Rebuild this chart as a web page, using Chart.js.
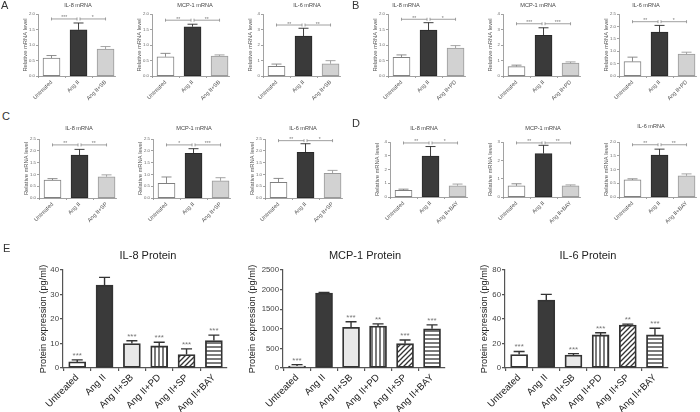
<!DOCTYPE html>
<html><head><meta charset="utf-8">
<script src="https://cdn.jsdelivr.net/npm/chart.js@4.4.0/dist/chart.umd.min.js"></script>
<style>
html,body{margin:0;padding:0;background:#fff;width:700px;height:412px;overflow:hidden;position:relative;font-family:Arial,"Liberation Sans",sans-serif;}
canvas{position:absolute;}
.t{position:absolute;white-space:nowrap;transform:translate(-50%,-50%);line-height:1;}
</style></head><body>
<script>
const FONT = 'Arial, "Liberation Sans", sans-serif';

// ---------- mRNA panels (A-D) ----------
const labelsA = ["Untreated", "Ang II", "Ang II+SB"];
const labelsB = ["Untreated", "Ang II", "Ang II+PD"];
const labelsC = ["Untreated", "Ang II", "Ang II+SP"];
const labelsD = ["Untreated", "Ang II", "Ang II+BAY"];

const A_IL8 = [0.58, 1.49, 0.87],  A_IL8_err = [0.08, 0.22, 0.08];
const A_MCP1 = [0.62, 1.59, 0.645], A_MCP1_err = [0.11, 0.08, 0.035];
const A_IL6 = [0.63, 2.58, 0.79],  A_IL6_err = [0.14, 0.50, 0.20];
const B_IL8 = [0.60, 1.48, 0.90],  B_IL8_err = [0.08, 0.24, 0.08];
const B_MCP1 = [0.61, 2.63, 0.83], B_MCP1_err = [0.09, 0.48, 0.08];
const B_IL6 = [0.58, 1.77, 0.88],  B_IL6_err = [0.18, 0.27, 0.08];
const C_IL8 = [0.76, 1.82, 0.90],  C_IL8_err = [0.06, 0.24, 0.08];
const C_MCP1 = [0.62, 1.89, 0.73], C_MCP1_err = [0.27, 0.20, 0.13];
const C_IL6 = [0.66, 1.94, 1.05],  C_IL6_err = [0.17, 0.36, 0.12];
const D_IL8 = [0.48, 2.97, 0.82],  D_IL8_err = [0.09, 0.70, 0.12];
const D_MCP1 = [0.61, 2.37, 0.61], D_MCP1_err = [0.11, 0.45, 0.05];
const D_IL6 = [0.62, 1.52, 0.77],  D_IL6_err = [0.04, 0.22, 0.07];

const ticks2_0 = [0, 0.5, 1.0, 1.5, 2.0];
const ticks2_5 = [0, 0.5, 1.0, 1.5, 2.0, 2.5];
const ticks3 = [0, 1, 2, 3];
const ticks4 = [0, 1, 2, 3, 4];

// bracket heights and significance marks
const A_IL8_sig = ["***", "*"],  A_MCP1_sig = ["**", "**"], A_IL6_sig = ["**", "**"];
const B_IL8_sig = ["**", "*"],   B_MCP1_sig = ["***", "***"], B_IL6_sig = ["**", "*"];
const C_IL8_sig = ["**", "**"],  C_MCP1_sig = ["*", "***"], C_IL6_sig = ["**", "*"];
const D_IL8_sig = ["**", "*"],   D_MCP1_sig = ["**", "**"], D_IL6_sig = ["**", "**"];
const bracketLevels = {A_IL8: 1.84, A_MCP1: 1.8, A_IL6: 3.29, B_IL8: 1.83, B_MCP1: 3.37, B_IL6: 2.19,
  C_IL8: 2.25, C_MCP1: 2.25, C_IL6: 2.43, D_IL8: 3.93, D_MCP1: 2.95, D_IL6: 1.9};

// ---------- Protein panels (E) ----------
const labelsE = ["Untreated", "Ang II", "Ang II+SB", "Ang II+PD", "Ang II+SP", "Ang II+BAY"];
const IL8_protein = [2.5, 33.8, 10.0, 9.0, 5.5, 11.2];
const IL8_protein_err = [0.8, 3.2, 1.1, 1.5, 2.3, 2.2];
const MCP1_protein = [50, 1910, 1040, 1070, 620, 1000];
const MCP1_protein_err = [35, 20, 140, 55, 95, 100];
const IL6_protein = [11, 55.5, 10.5, 27, 35, 27];
const IL6_protein_err = [2.5, 4.6, 1.2, 1.8, 0.8, 5.5];
const IL8_protein_sig = ["***", "", "***", "***", "***", "***"];
const MCP1_protein_sig = ["***", "", "***", "**", "***", "***"];
const IL6_protein_sig = ["***", "", "***", "***", "**", "***"];
const ticksIL8P = [0, 10, 20, 30, 40];
const ticksMCP1P = [0, 500, 1000, 1500, 2000, 2500];
const ticksIL6P = [0, 20, 40, 60, 80];

// ---------- helpers ----------
function addText(txt, x, y, size, color) {
  const d = document.createElement('div');
  d.className = 't'; d.textContent = txt;
  d.style.left = x + 'px'; d.style.top = y + 'px';
  d.style.fontSize = size + 'px'; d.style.color = color;
  document.body.appendChild(d);
}
function addLetter(txt, x, y) {
  const d = document.createElement('div');
  d.style.position = 'absolute'; d.textContent = txt;
  d.style.left = x + 'px'; d.style.top = y + 'px';
  d.style.fontSize = '11px'; d.style.color = '#333'; d.style.lineHeight = '1';
  document.body.appendChild(d);
}
function makePattern(kind) {
  const s = kind === 'diag' ? 5 : 4;
  const c = document.createElement('canvas'); c.width = s; c.height = s;
  const g = c.getContext('2d');
  g.fillStyle = '#fff'; g.fillRect(0, 0, s, s);
  g.strokeStyle = '#333'; g.lineWidth = 1.3;
  g.beginPath();
  if (kind === 'vert') { g.moveTo(1, 0); g.lineTo(1, s); }
  else if (kind === 'horz') { g.moveTo(0, 1); g.lineTo(s, 1); }
  else { g.moveTo(-1, s + 1); g.lineTo(s + 1, -1); g.moveTo(-1, 1); g.lineTo(1, -1); g.moveTo(s - 1, s + 1); g.lineTo(s + 1, s - 1); }
  g.stroke();
  return g.createPattern(c, 'repeat');
}

function panel(o) {
  const cv = document.createElement('canvas');
  const W = Math.round((o.R - o.L) + o.yw + o.pr), H = Math.round((o.B - o.T) + o.pt + o.xh);
  cv.width = W; cv.height = H;
  cv.style.left = (o.L - o.yw) + 'px'; cv.style.top = (o.T - o.pt) + 'px';
  cv.style.width = W + 'px'; cv.style.height = H + 'px';
  document.body.appendChild(cv);
  const overlay = {
    id: 'overlay',
    afterDatasetsDraw(chart) {
      const ctx = chart.ctx, ys = chart.scales.y;
      const bars = chart.getDatasetMeta(0).data;
      ctx.save();
      bars.forEach((bar, i) => {
        const x = bar.x;
        const y0 = ys.getPixelForValue(o.values[i]);
        const y1 = ys.getPixelForValue(o.values[i] + o.errs[i]);
        ctx.strokeStyle = o.errCol[i]; ctx.lineWidth = o.ew;
        ctx.beginPath();
        ctx.moveTo(x, y0); ctx.lineTo(x, y1);
        ctx.moveTo(x - o.cap / 2, y1); ctx.lineTo(x + o.cap / 2, y1);
        ctx.stroke();
        if (o.stars && o.stars[i]) {
          ctx.fillStyle = o.starCol; ctx.font = o.starFs + 'px ' + FONT;
          ctx.textAlign = 'center'; ctx.textBaseline = 'alphabetic';
          ctx.fillText(o.stars[i], x, y1 - 2);
        }
      });
      if (o.bracket !== undefined) {
        const y = ys.getPixelForValue(o.bracket);
        const xs = bars.map(b => b.x);
        const segs = [[xs[0], xs[1] - 1.5], [xs[1] + 1.5, xs[2]]];
        ctx.strokeStyle = '#888'; ctx.lineWidth = 0.8;
        ctx.fillStyle = '#777'; ctx.font = o.sigFs + 'px ' + FONT;
        ctx.textAlign = 'center'; ctx.textBaseline = 'alphabetic';
        segs.forEach((sg, k) => {
          ctx.beginPath();
          ctx.moveTo(sg[0], y); ctx.lineTo(sg[1], y);
          ctx.moveTo(sg[0], y - 1.5); ctx.lineTo(sg[0], y + 1.5);
          ctx.moveTo(sg[1], y - 1.5); ctx.lineTo(sg[1], y + 1.5);
          ctx.stroke();
          ctx.fillText(o.sig[k], (sg[0] + sg[1]) / 2, y + 0.5);
        });
      }
      ctx.restore();
    }
  };
  new Chart(cv, {
    type: 'bar',
    data: { datasets: [{
      data: o.values.map((v, i) => ({ x: i, y: v })),
      backgroundColor: o.fills, borderColor: o.borders, borderWidth: o.bw,
      borderSkipped: false, barThickness: o.barW
    }] },
    options: {
      responsive: false, animation: false, devicePixelRatio: 1,
      layout: { padding: { left: 0, top: o.pt, right: o.pr, bottom: 0 } },
      plugins: { legend: { display: false }, tooltip: { enabled: false }, title: { display: false } },
      scales: {
        x: {
          type: 'linear', min: o.xmin, max: o.xmax, offset: false,
          afterBuildTicks: s => { s.ticks = o.labels.map((_, i) => ({ value: i })); },
          afterFit: s => { s.height = o.xh; s.paddingLeft = 0; s.paddingRight = 0; },
          ticks: { autoSkip: false, minRotation: 45, maxRotation: 45, padding: o.xpad,
            color: o.xcol, font: { family: FONT, size: o.xfs }, callback: v => o.labels[v] },
          grid: { display: true, drawOnChartArea: false, drawTicks: true, tickLength: o.tl, color: o.axcol, lineWidth: o.axw },
          border: { display: true, color: o.axcol, width: o.axw }
        },
        y: {
          min: 0, max: o.yticks[o.yticks.length - 1],
          afterBuildTicks: s => { s.ticks = o.yticks.map(v => ({ value: v })); },
          afterFit: s => { s.width = o.yw; s.paddingTop = 0; s.paddingBottom = 0; },
          ticks: { padding: 1, color: o.ycol, font: { family: FONT, size: o.yfs },
            callback: v => v.toFixed(o.dec) },
          grid: { display: true, drawOnChartArea: false, drawTicks: true, tickLength: o.tl, color: o.axcol, lineWidth: o.axw },
          border: { display: true, color: o.axcol, width: o.axw },
          title: { display: true, text: o.ytitle, color: o.ytcol, font: { family: FONT, size: o.ytfs }, padding: { top: 0, bottom: 0 } }
        }
      }
    },
    plugins: [overlay]
  });
  addText(o.title, o.tx, o.ty, o.tfs, o.tcol);
}

// small mRNA panel
function mrna(title, labels, vals, errs, sig, br, yt, dec, L, T, B, tx, ty) {
  panel({
    title, tx, ty, tfs: 5.6, tcol: '#444',
    labels, values: vals, errs, sig, bracket: br, sigFs: 5,
    yticks: yt, dec, L, R: L + 77, T, B,
    yw: 16, pt: 10, pr: 3, xh: 28, xmin: -0.5, xmax: 2.35, barW: 17,
    fills: ['#ffffff', '#3a3a3a', '#d2d2d2'], borders: ['#808080', '#2a2a2a', '#9a9a9a'], bw: 1,
    errCol: ['#808080', '#2a2a2a', '#9a9a9a'], ew: 0.9, cap: 10,
    xfs: 5.6, xcol: '#555', xpad: 1, yfs: 4.3, ycol: '#666', tl: 2, axcol: '#8a8a8a', axw: 0.8,
    ytitle: 'Relative mRNA level', ytfs: 5.8, ytcol: '#555'
  });
}

mrna('IL-8 mRNA', labelsA, A_IL8, A_IL8_err, A_IL8_sig, bracketLevels.A_IL8, ticks2_0, 1, 38, 14, 76, 78, 6);
mrna('MCP-1 mRNA', labelsA, A_MCP1, A_MCP1_err, A_MCP1_sig, bracketLevels.A_MCP1, ticks2_0, 1, 152, 14, 76, 195, 6);
mrna('IL-6 mRNA', labelsA, A_IL6, A_IL6_err, A_IL6_sig, bracketLevels.A_IL6, ticks4, 0, 263, 14, 76, 307, 6);
mrna('IL-8 mRNA', labelsB, B_IL8, B_IL8_err, B_IL8_sig, bracketLevels.B_IL8, ticks2_0, 1, 388, 14, 76, 406, 6);
mrna('MCP-1 mRNA', labelsB, B_MCP1, B_MCP1_err, B_MCP1_sig, bracketLevels.B_MCP1, ticks4, 0, 503, 14, 76, 538, 6);
mrna('IL-6 mRNA', labelsB, B_IL6, B_IL6_err, B_IL6_sig, bracketLevels.B_IL6, ticks2_5, 1, 619, 14, 76, 646, 6);
mrna('IL-8 mRNA', labelsC, C_IL8, C_IL8_err, C_IL8_sig, bracketLevels.C_IL8, ticks2_5, 1, 39, 139, 198, 79, 129);
mrna('MCP-1 mRNA', labelsC, C_MCP1, C_MCP1_err, C_MCP1_sig, bracketLevels.C_MCP1, ticks2_5, 1, 153, 139, 198, 194, 129);
mrna('IL-6 mRNA', labelsC, C_IL6, C_IL6_err, C_IL6_sig, bracketLevels.C_IL6, ticks2_5, 1, 265, 139, 198, 303, 129);
mrna('IL-8 mRNA', labelsD, D_IL8, D_IL8_err, D_IL8_sig, bracketLevels.D_IL8, ticks4, 0, 390, 142, 197, 424, 129);
mrna('MCP-1 mRNA', labelsD, D_MCP1, D_MCP1_err, D_MCP1_sig, bracketLevels.D_MCP1, ticks3, 0, 503, 142, 197, 543, 129);
mrna('IL-6 mRNA', labelsD, D_IL6, D_IL6_err, D_IL6_sig, bracketLevels.D_IL6, ticks2_0, 1, 619, 142, 197, 651, 127);

// protein panels
const pv = makePattern('vert'), pd = makePattern('diag'), ph = makePattern('horz');
function protein(title, vals, errs, stars, yt, L, R, yw, tx) {
  panel({
    title, tx, ty: 255, tfs: 11, tcol: '#222',
    labels: labelsE, values: vals, errs, stars, starFs: 8, starCol: '#777',
    yticks: yt, dec: 0, L, R, T: 270, B: 368,
    yw, pt: 12, pr: 4, xh: 44, xmin: -0.52, xmax: 5.48, barW: 17,
    fills: ['#ffffff', '#3a3a3a', '#e8e8e8', pv, pd, ph],
    borders: ['#333', '#333', '#333', '#333', '#333', '#333'], bw: 1.8,
    errCol: ['#333', '#333', '#333', '#333', '#333', '#333'], ew: 1.4, cap: 11,
    xfs: 9.6, xcol: '#222', xpad: 1, yfs: 7.8, ycol: '#444', tl: 3, axcol: '#555', axw: 1.2,
    ytitle: 'Protein expression (pg/ml)', ytfs: 9.3, ytcol: '#222'
  });
}
protein('IL-8 Protein', IL8_protein, IL8_protein_err, IL8_protein_sig, ticksIL8P, 63, 227, 25, 148);
protein('MCP-1 Protein', MCP1_protein, MCP1_protein_err, MCP1_protein_sig, ticksMCP1P, 283, 445, 36, 365);
protein('IL-6 Protein', IL6_protein, IL6_protein_err, IL6_protein_sig, ticksIL6P, 505, 668, 26, 588);

addLetter('A', 1, 0);
addLetter('B', 352, 0);
addLetter('C', 2, 111);
addLetter('D', 352, 118);
addLetter('E', 3, 243);
</script></body></html>
